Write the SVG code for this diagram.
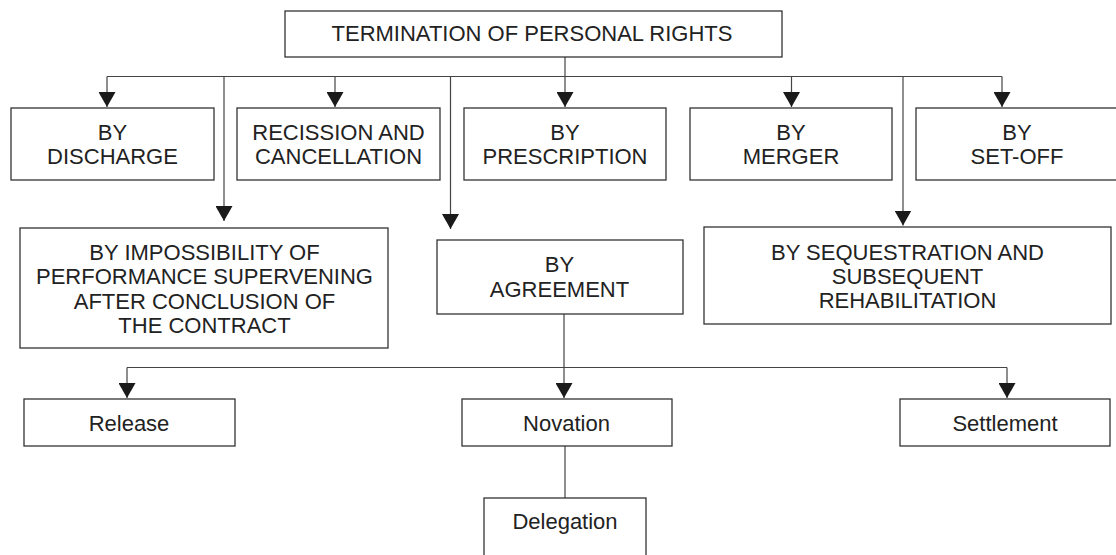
<svg xmlns="http://www.w3.org/2000/svg" width="1116" height="555" viewBox="0 0 1116 555">
  <defs>
    <style>
      .box { fill: #ffffff; stroke: #333333; stroke-width: 1.3; }
      .lbl { font-family: "Liberation Sans", Arial, sans-serif; font-size: 22px; fill: #222222; text-anchor: middle; }
      .wire { fill: none; stroke: #444444; stroke-width: 1.2; }
      .arrow { marker-end: url(#head); }
    </style>
    <marker id="head" markerUnits="userSpaceOnUse" markerWidth="15" markerHeight="17" refX="15" refY="8.5" orient="auto">
      <path d="M0,0 L15,8.5 L0,17 Z" fill="#1a1a1a"/>
    </marker>
  </defs>

  <!-- connectors -->
  <g id="connectors">
    <!-- root bus -->
    <line class="wire" x1="565" y1="57" x2="565" y2="76.5"/>
    <line class="wire" x1="107" y1="76.5" x2="1002" y2="76.5"/>
    <line class="wire arrow" x1="107" y1="76.5" x2="107" y2="107"/>
    <line class="wire arrow" x1="335" y1="76.5" x2="335" y2="107"/>
    <line class="wire arrow" x1="565" y1="76.5" x2="565" y2="107"/>
    <line class="wire arrow" x1="791.5" y1="76.5" x2="791.5" y2="107"/>
    <line class="wire arrow" x1="1002" y1="76.5" x2="1002" y2="107"/>
    <line class="wire arrow" x1="224" y1="76.5" x2="224" y2="221"/>
    <line class="wire arrow" x1="450.5" y1="76.5" x2="450.5" y2="229"/>
    <line class="wire arrow" x1="903" y1="76.5" x2="903" y2="225.5"/>
    <!-- agreement bus -->
    <line class="wire" x1="564" y1="314" x2="564" y2="367.5"/>
    <line class="wire" x1="127" y1="367.5" x2="1007" y2="367.5"/>
    <line class="wire arrow" x1="127" y1="367.5" x2="127" y2="398"/>
    <line class="wire arrow" x1="564" y1="367.5" x2="564" y2="398"/>
    <line class="wire arrow" x1="1007" y1="367.5" x2="1007" y2="398"/>
    <!-- novation to delegation -->
    <line class="wire" x1="565" y1="446" x2="565" y2="498"/>
  </g>

  <g id="root">
    <rect class="box" x="285" y="11" width="497" height="46"/>
    <text class="lbl" x="532" y="41">TERMINATION OF PERSONAL RIGHTS</text>
  </g>

  <g id="discharge">
    <rect class="box" x="11" y="108" width="203" height="72"/>
    <text class="lbl" x="112.5" y="139.5">BY</text>
    <text class="lbl" x="112.5" y="164">DISCHARGE</text>
  </g>

  <g id="recission">
    <rect class="box" x="237" y="108" width="203" height="72"/>
    <text class="lbl" x="338.5" y="139.5">RECISSION AND</text>
    <text class="lbl" x="338.5" y="164">CANCELLATION</text>
  </g>

  <g id="prescription">
    <rect class="box" x="464" y="108" width="202" height="72"/>
    <text class="lbl" x="565" y="139.5">BY</text>
    <text class="lbl" x="565" y="164">PRESCRIPTION</text>
  </g>

  <g id="merger">
    <rect class="box" x="690" y="108" width="202" height="72"/>
    <text class="lbl" x="791" y="139.5">BY</text>
    <text class="lbl" x="791" y="164">MERGER</text>
  </g>

  <g id="setoff">
    <rect class="box" x="916" y="108" width="210" height="72"/>
    <text class="lbl" x="1017" y="139.5">BY</text>
    <text class="lbl" x="1017" y="164">SET-OFF</text>
  </g>

  <g id="impossibility">
    <rect class="box" x="20" y="228" width="368" height="120"/>
    <text class="lbl" x="204.5" y="259.5">BY IMPOSSIBILITY OF</text>
    <text class="lbl" x="204.5" y="284">PERFORMANCE SUPERVENING</text>
    <text class="lbl" x="204.5" y="308.5">AFTER CONCLUSION OF</text>
    <text class="lbl" x="204.5" y="333">THE CONTRACT</text>
  </g>

  <g id="agreement">
    <rect class="box" x="437" y="240" width="246" height="74"/>
    <text class="lbl" x="559.5" y="272">BY</text>
    <text class="lbl" x="559.5" y="296.5">AGREEMENT</text>
  </g>

  <g id="sequestration">
    <rect class="box" x="704" y="227" width="407" height="97"/>
    <text class="lbl" x="907.5" y="260">BY SEQUESTRATION AND</text>
    <text class="lbl" x="907.5" y="284">SUBSEQUENT</text>
    <text class="lbl" x="907.5" y="308">REHABILITATION</text>
  </g>

  <g id="release">
    <rect class="box" x="24" y="399" width="211" height="47"/>
    <text class="lbl" x="129" y="430.5">Release</text>
  </g>

  <g id="novation">
    <rect class="box" x="462" y="399" width="210" height="47"/>
    <text class="lbl" x="566.5" y="430.5">Novation</text>
  </g>

  <g id="settlement">
    <rect class="box" x="900" y="399" width="210" height="47"/>
    <text class="lbl" x="1005" y="430.5">Settlement</text>
  </g>

  <g id="delegation">
    <rect class="box" x="484" y="498" width="162" height="80"/>
    <text class="lbl" x="565" y="529">Delegation</text>
  </g>
</svg>
